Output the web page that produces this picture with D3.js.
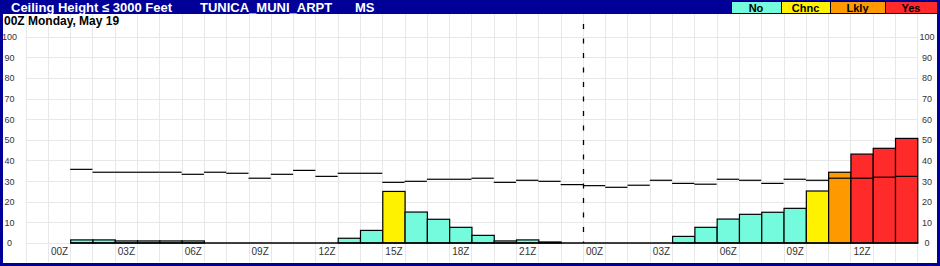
<!DOCTYPE html>
<html>
<head>
<meta charset="utf-8">
<script src="https://cdn.jsdelivr.net/npm/d3@7"></script>
<style>
  body { margin: 0; background: #fff; }
  svg { display: block; font-family: "Liberation Sans", Arial, sans-serif; }
</style>
</head>
<body>
<svg id="chart" width="940" height="266"></svg>
<script>
// forecast hours, 01Z day 1 .. 14Z day 2
var hours = d3.range(1, 39);
// probability (%) per hour
var probs = [1.5, 1.5, 1, 1, 1, 1, 0, 0, 0, 0, 0, 0, 2.3, 6.1, 25, 15, 11.5, 7.6, 3.7, 1, 1.5, 0.5, 0,
             0, 0, 0, 0, 3.2, 7.6, 11.6, 13.9, 14.9, 16.8, 25.2, 34.3, 43.1, 45.9, 50.7];
// category per hour
var cats = ["No", "No", "No", "No", "No", "No", "No", "No", "No", "No", "No", "No", "No", "No", "Chnc", "No", "No", "No", "No", "No", "No", "No", "No",
            "No", "No", "No", "No", "No", "No", "No", "No", "No", "No", "Chnc", "Lkly", "Yes", "Yes", "Yes"];
// climatology per hour
var clim = [35.7, 34.3, 34.3, 34.3, 34.3, 33.3, 34.3, 33.8, 31.4, 33.3, 35.2, 32.3, 33.8, 33.8, 29.4, 29.9, 30.9, 30.9, 31.4, 29.4, 30.4, 29.9, 28.3,
            27.8, 27.0, 28.0, 30.4, 28.9, 28.5, 30.9, 30.4, 28.9, 30.9, 30.4, 31.4, 31.4, 31.9, 32.3];
var tickHours = [0, 3, 6, 9, 12, 15, 18, 21, 24, 27, 30, 33, 36];
var tickLabels = ["00Z", "03Z", "06Z", "09Z", "12Z", "15Z", "18Z", "21Z", "00Z", "03Z", "06Z", "09Z", "12Z"];
var legendCats = ["No", "Chnc", "Lkly", "Yes"];
var legendColors = ["#74fadc", "#fff200", "#ff9900", "#ff2a2a"];

var svg = d3.select("#chart");
var W = 940, H = 266;
var blue = "#000099";

var x = d3.scaleLinear().domain([-1, 39]).range([25.6, 917.3]);
var y = d3.scaleLinear().domain([0, 100]).range([243, 36.7]);
var color = d3.scaleOrdinal().domain(legendCats).range(legendColors);

// grid
var grid = svg.append("g").attr("class", "grid");
grid.selectAll("line.v")
    .data(d3.range(-1, 40))
    .enter().append("line")
    .attr("x1", function (d) { return Math.round(x(d)) + 0.5; })
    .attr("x2", function (d) { return Math.round(x(d)) + 0.5; })
    .attr("y1", 14)
    .attr("y2", 262)
    .attr("stroke", "#e8e8e8");
grid.selectAll("line.h")
    .data(d3.range(0, 101, 10))
    .enter().append("line")
    .attr("x1", x(-1))
    .attr("x2", x(39))
    .attr("y1", function (d) { return Math.round(y(d)) + 0.5; })
    .attr("y2", function (d) { return Math.round(y(d)) + 0.5; })
    .attr("stroke", "#e8e8e8");

// y axes, both sides
var yAxisL = d3.axisLeft(y).tickValues(d3.range(0, 101, 10)).tickSize(0).tickPadding(0);
var yAxisR = d3.axisRight(y).tickValues(d3.range(0, 101, 10)).tickSize(0).tickPadding(0);
[[yAxisL, 9.5], [yAxisR, 927]].forEach(function (a) {
    var g = svg.append("g").attr("transform", "translate(" + a[1] + ",0)").call(a[0]);
    g.select(".domain").remove();
    g.selectAll("text")
        .attr("text-anchor", "middle")
        .attr("x", 0)
        .attr("fill", "#333")
        .style("font-size", "9px");
});

// x axis
var xAxis = d3.axisBottom(x)
    .tickValues(tickHours.map(function (h) { return h + 0.5; }))
    .tickFormat(function (d, i) { return tickLabels[i]; })
    .tickSize(0).tickPadding(0);
var gx = svg.append("g").attr("transform", "translate(0,248)").call(xAxis);
gx.select(".domain").remove();
gx.selectAll("text").attr("fill", "#333").style("font-size", "10px");

// bars
var bw = x(1) - x(0);
svg.append("g").selectAll("rect")
    .data(hours)
    .enter().append("rect")
    .attr("x", function (d) { return x(d) + 0.5; })
    .attr("y", function (d, i) { return y(probs[i]); })
    .attr("width", bw)
    .attr("height", function (d, i) { return y(0) - y(probs[i]); })
    .attr("fill", function (d, i) { return color(cats[i]); })
    .attr("stroke", "#000")
    .attr("stroke-width", 1.2);

// climatology
svg.append("g").selectAll("line")
    .data(hours)
    .enter().append("line")
    .attr("x1", function (d) { return x(d); })
    .attr("x2", function (d) { return x(d + 1); })
    .attr("y1", function (d, i) { return y(clim[i]); })
    .attr("y2", function (d, i) { return y(clim[i]); })
    .attr("stroke", "#000")
    .attr("stroke-width", 1.2);

// baseline under the bars (zero-height bars show as a line)
svg.append("path")
    .attr("d", "M" + x(1) + "," + y(0) + "H" + (x(39) + 1))
    .attr("stroke", "#000")
    .attr("stroke-width", 1.5)
    .attr("fill", "none");

// day break
svg.append("line")
    .attr("x1", Math.round(x(24)) + 0.5)
    .attr("x2", Math.round(x(24)) + 0.5)
    .attr("y1", 24)
    .attr("y2", 243)
    .attr("stroke", "#000")
    .attr("stroke-width", 1.3)
    .attr("stroke-dasharray", "5,9.5");

// subtitle
svg.append("text")
    .attr("x", 4)
    .attr("y", 25)
    .attr("font-weight", "bold")
    .style("font-size", "12px")
    .text("00Z Monday, May 19");

// header band
svg.append("rect").attr("x", 0).attr("y", 0).attr("width", W).attr("height", 14).attr("fill", blue);
var hdr = [["Ceiling Height \u2264 3000 Feet", 11], ["TUNICA_MUNI_ARPT", 200], ["MS", 355]];
svg.selectAll("text.hdr")
    .data(hdr)
    .enter().append("text")
    .attr("class", "hdr")
    .attr("x", function (d) { return d[1]; })
    .attr("y", 12)
    .attr("fill", "#fff")
    .attr("font-weight", "bold")
    .style("font-size", "13px")
    .text(function (d) { return d[0]; });

// legend
var legX = [731, 781, 830, 885, 937];
var leg = svg.append("g").selectAll("g")
    .data(legendCats)
    .enter().append("g");
leg.append("rect")
    .attr("x", function (d, i) { return legX[i] + 0.5; })
    .attr("y", 1.5)
    .attr("width", function (d, i) { return legX[i + 1] - legX[i]; })
    .attr("height", 12)
    .attr("fill", function (d) { return color(d); })
    .attr("stroke", "#000");
leg.append("text")
    .attr("x", function (d, i) { return (legX[i] + legX[i + 1]) / 2; })
    .attr("y", 11.5)
    .attr("text-anchor", "middle")
    .attr("font-weight", "bold")
    .style("font-size", "11px")
    .text(function (d) { return d; });

// frame
svg.append("rect").attr("x", 0).attr("y", 0).attr("width", 3).attr("height", H).attr("fill", blue);
svg.append("rect").attr("x", W - 3).attr("y", 0).attr("width", 3).attr("height", H).attr("fill", blue);
svg.append("rect").attr("x", 0).attr("y", H - 3).attr("width", W).attr("height", 3).attr("fill", blue);
</script>
</body>
</html>
